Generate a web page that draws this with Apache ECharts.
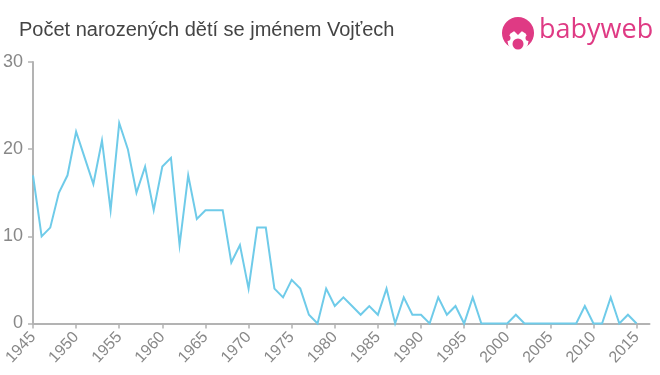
<!DOCTYPE html>
<html><head><meta charset="utf-8">
<style>html,body{margin:0;padding:0;background:#fff}#c{width:660px;height:375px}</style>
<script src="https://cdn.jsdelivr.net/npm/echarts@6/dist/echarts.min.js"></script></head>
<body><div id="c"></div>
<script>
const titleText = 'Počet narozených dětí se jménem Vojťech';
const brandText = 'babyweb';
const startYear = 1945;
const counts = [17,10,11,15,17,22,19,16,21,13,23,20,15,18,13,18,19,9,17,12,13,13,13,7,9,4,11,11,4,3,5,4,1,0,4,2,3,2,1,2,1,4,0,3,1,1,0,3,1,2,0,3,0,0,0,0,1,0,0,0,0,0,0,0,2,0,0,3,0,1,0];
const xTicks = [1945,1950,1955,1960,1965,1970,1975,1980,1985,1990,1995,2000,2005,2010,2015];
const yTicks = [0,10,20,30];
const points = counts.map((v,i)=>[startYear+i,v]);
const pink = '#df3a84';
const chart = echarts.init(document.getElementById('c'),null,{renderer:'canvas'});
chart.setOption({
  animation:false,
  backgroundColor:'#fff',
  title:{text:titleText,left:19,top:20,padding:0,textStyle:{fontFamily:'Liberation Sans',fontSize:20,fontWeight:'normal',color:'#444'}},
  grid:{left:33,right:10.5,top:62,bottom:51.5,containLabel:false,outerBoundsMode:'none'},
  xAxis:{type:'value',min:1945,max:2016.5,interval:5,splitLine:{show:false},
    axisLine:{onZero:false,lineStyle:{color:'#b3b3b3',width:2}},
    axisTick:{length:5,customValues:xTicks,lineStyle:{color:'#b3b3b3',width:1.5}},
    axisLabel:{customValues:xTicks,rotate:47,margin:11,padding:[6,0,0,0],color:'#888',fontFamily:'Liberation Sans',fontSize:16,formatter:v=>String(v)}},
  yAxis:{type:'value',min:0,max:30,interval:10,splitLine:{show:false},
    axisLine:{show:true,lineStyle:{color:'#b3b3b3',width:2}},
    axisTick:{show:true,length:5,customValues:yTicks,lineStyle:{color:'#b3b3b3',width:1.5}},
    axisLabel:{customValues:yTicks,margin:10,color:'#888',fontFamily:'Liberation Sans',fontSize:18}},
  series:[{type:'line',data:points,showSymbol:false,symbol:'none',clip:false,lineStyle:{color:'#6fcbe9',width:2,join:'miter'}}],
  graphic:[
    {type:'circle',shape:{cx:518,cy:33,r:16},style:{fill:pink}},
    {type:'circle',shape:{cx:518,cy:41,r:10.5},style:{fill:'#fff'}},
    {type:'circle',shape:{cx:507.5,cy:38,r:3},style:{fill:pink}},
    {type:'circle',shape:{cx:528.5,cy:38,r:3},style:{fill:pink}},
    {type:'polygon',shape:{points:[[511,28],[518,35],[525,28]]},style:{fill:pink}},
    {type:'circle',shape:{cx:518,cy:44,r:5.5},style:{fill:pink}},
    {type:'text',left:539,top:17,style:{text:brandText,fill:pink,font:'27px "Open Sans"'}}
  ]
});
</script></body></html>
